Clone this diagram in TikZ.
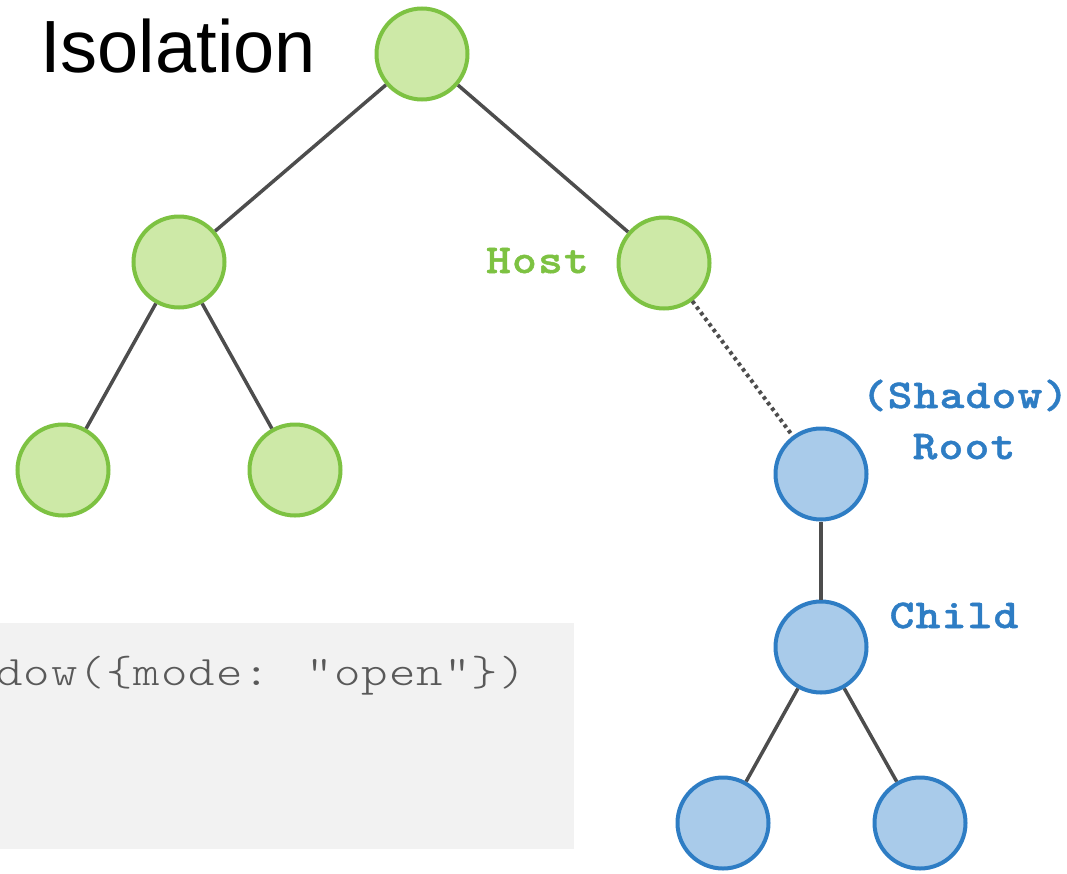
\documentclass[tikz,border=0pt]{standalone}
\usepackage{fontspec}
\newfontfamily\titlefont{Liberation Sans}
\newfontfamily\codefont{Latin Modern Mono Light}[Ligatures=TeXOff, FakeStretch=1.2, LetterSpace=2.5]
\newfontfamily\lblfont{Latin Modern Mono Light}[Ligatures=TeXOff, FakeStretch=1.15, LetterSpace=3, BoldFeatures={FakeBold=1.2}]
\definecolor{gstroke}{RGB}{125,194,66}
\definecolor{gfill}{RGB}{205,233,167}
\definecolor{bstroke}{RGB}{46,125,196}
\definecolor{bfill}{RGB}{169,203,234}
\definecolor{edgec}{RGB}{77,77,77}
\definecolor{codec}{RGB}{89,89,89}
\definecolor{codebg}{RGB}{242,242,242}
\tikzset{
  gnode/.style={circle, draw=gstroke, fill=gfill, line width=4pt, minimum size=91pt, inner sep=0pt},
  bnode/.style={circle, draw=bstroke, fill=bfill, line width=4pt, minimum size=91pt, inner sep=0pt},
  edge/.style={draw=edgec, line width=3.5pt},
  dotedge/.style={draw=edgec, line width=4pt, dash pattern=on 3.5pt off 3.5pt},
  glabel/.style={text=gstroke, font=\lblfont\bfseries\fontsize{41}{46}\selectfont, inner sep=0pt},
  blabel/.style={text=bstroke, font=\lblfont\bfseries\fontsize{41}{46}\selectfont, inner sep=0pt},
}
\begin{document}
\begin{tikzpicture}[x=1pt, y=-1pt]
\useasboundingbox (0,0) rectangle (1067,873);
% code box
\node[fill=codebg, minimum width=584pt, minimum height=226pt, anchor=north west, inner sep=0pt] (codebox) at (-10,623) {};
\node[anchor=base west, inner sep=0pt, text=codec, font=\codefont\fontsize{42}{50}\selectfont] (code) at (-4,685) {dow(\{mode: "open"\})};
% title
\node[anchor=base west, inner sep=0pt, font=\titlefont\fontsize{74}{80}\selectfont] (title) at (40,72) {Isolation};
% green tree
\node[gnode] (root) at (422,54) {};
\node[gnode] (l) at (179,262) {};
\node[gnode] (host) at (664,263) {};
\node[gnode] (ll) at (63,470) {};
\node[gnode] (lr) at (295,470) {};
% blue tree
\node[bnode] (sroot) at (821,474) {};
\node[bnode] (child) at (821,647) {};
\node[bnode] (cl) at (723,823) {};
\node[bnode] (cr) at (920,823) {};
% edges
\draw[edge] (root) -- (l);
\draw[edge] (root) -- (host);
\draw[edge] (l) -- (ll);
\draw[edge] (l) -- (lr);
\draw[dotedge] (host) -- (sroot);
\draw[edge] (sroot) -- (child);
\draw[edge] (child) -- (cl);
\draw[edge] (child) -- (cr);
% labels
\node[glabel, anchor=base east] (hostlbl) at (589,273) {Host};
\node[blabel, anchor=base] (shlbl) at (965,408) {(Shadow)};
\node[blabel, anchor=base] (rootlbl) at (964,459) {Root};
\node[blabel, anchor=base] (childlbl) at (954,628) {Child};
\end{tikzpicture}
\end{document}
